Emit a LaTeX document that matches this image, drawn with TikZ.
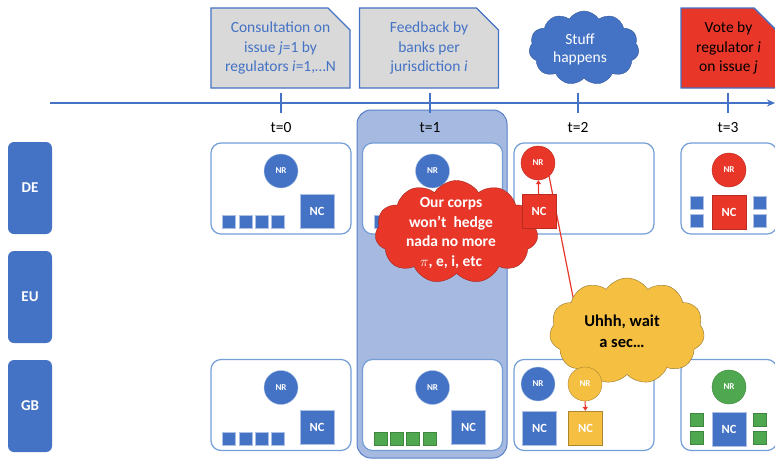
\documentclass[tikz,border=0pt]{standalone}
\usepackage{fontspec}
\setmainfont{Carlito}
\usepackage{tikz}
\usetikzlibrary{arrows.meta,positioning,shapes.symbols,shapes.misc}
\usepackage{xcolor}
\definecolor{office}{rgb}{0.267, 0.447, 0.769}
\definecolor{paleline}{rgb}{0.45, 0.62, 0.84}
\definecolor{haze}{rgb}{0.65, 0.725, 0.88}
\definecolor{scarlet}{rgb}{0.91, 0.21, 0.16}
\definecolor{amber}{rgb}{0.96, 0.75, 0.26}
\definecolor{clover}{rgb}{0.31, 0.655, 0.31}
\definecolor{silver}{rgb}{0.85, 0.85, 0.85}

\tikzset{
	axis/.style={draw=office, line width=1.5pt},
	stamp/.style={font=\fontsize{15.5}{15.5}\selectfont, inner sep=0pt},
	topbox/.style={chamfered rectangle, chamfered rectangle corners=north east,
		chamfered rectangle xsep=11pt, chamfered rectangle ysep=11pt,
		draw=office, line width=1.4pt, fill=silver, text=office, align=center,
		font=\fontsize{15.5}{19.5}\selectfont, minimum width=139pt, minimum height=80pt, inner sep=2pt},
	region/.style={rectangle, rounded corners=6pt, fill=office, text=white,
		font=\fontsize{15}{15}\selectfont\bfseries, minimum width=44pt, minimum height=92pt},
	panel/.style={draw=paleline, line width=1.2pt, fill=white, rounded corners=10pt,
		minimum width=140pt, minimum height=91pt, outer sep=0pt},
	nr/.style={circle, draw=white!55!office, fill=office, text=white,
		font=\fontsize{9}{9}\selectfont\bfseries, minimum size=34pt, inner sep=0pt},
	nc/.style={rectangle, draw=white!55!office, fill=office, text=white,
		font=\fontsize{12.5}{12.5}\selectfont\bfseries, minimum size=34pt, inner sep=0pt},
	chip/.style={rectangle, draw=white!55!office, fill=office, minimum size=13pt, inner sep=0pt},
	greenchip/.style={chip, fill=clover, draw=clover!80!black},
	bluechip/.style={chip},
	puff/.style={cloud, cloud puffs=11, cloud puff arc=115, cloud ignores aspect, inner sep=0pt},
	say/.style={align=center, inner sep=0pt},
	redline/.style={draw=scarlet, line width=1.2pt},
}

\begin{document}
\begin{tikzpicture}[x=1pt, y=-1pt]
	\useasboundingbox (0,0) rectangle (775,458);

	% Shade the t=1 column.
	\node[rectangle, rounded corners=14pt, fill=haze, draw=office!90, line width=1pt,
		minimum width=150pt, minimum height=348pt] (focus) at (432,284) {};

	% Draw the timeline.
	\coordinate (tl start) at (50,103);
	\coordinate (tl end) at (775,103);
	\draw[axis, -{Stealth[length=8pt, width=7pt]}] (tl start) -- (tl end);
	\foreach \t/\x in {0/281, 1/430, 2/578, 3/728} {
		\draw[axis] (\x,93) -- (\x,113);
		\node[stamp] (t\t) at (\x,128) {t=\t};
	}

	% Events above the timeline.
	\node[topbox] (consult) at (280.5,48) {Consultation on\\issue \textit{j}=1 by\\regulators \textit{i}=1,\ldots N};
	\node[topbox] (feedback) at (429,48) {Feedback by\\banks per\\jurisdiction \textit{i}};
	\node[puff, fill=office, draw=office!80!black, minimum width=110pt, minimum height=74pt] (stuff) at (584,48) {};
	\node[say, text=white, font=\fontsize{15.5}{18}\selectfont] (stuff text) at (580,49) {Stuff\\happens};
	\node[topbox, fill=scarlet, text=black, minimum width=95pt] (vote) at (728.5,48) {Vote by\\regulator \textit{i}\\on issue \textit{j}};

	% Jurisdictions.
	\foreach \r/\lab/\y in {de/DE/188, eu/EU/297, gb/GB/406}
		\node[region] (\r) at (30,\y) {\lab};

	% Panels for each jurisdiction and date.
	\foreach \row/\y in {de/188.5, gb/405} {
		\foreach \col/\x in {0/281, 1/432.5, 2/584} {
			\node[panel] (\row\col) at (\x,\y) {};
		}
		\node[panel, minimum width=96pt] (\row3) at (729,\y) {};
	}

	% Same set-up at t=0 and t=1.
	\foreach \p/\c in {de0/bluechip, de1/bluechip, gb0/bluechip, gb1/greenchip} {
		\node[nr] (\p nr) at ([yshift=-28pt]\p.north) {NR};
		\foreach \k in {0,...,3}
			\node[\c] (\p s\k) at ([xshift=18pt+16.3pt*\k, yshift=12pt]\p.south west) {};
	}
	\foreach \p in {de0, gb0, gb1}
		\node[nc] (\p nc) at ([xshift=-34pt, yshift=23pt]\p.south east) {NC};

	% The red line to the doubt.
	\node[nr, fill=scarlet, draw=scarlet!80!black] (de2nr) at (538,163) {NR};
	\coordinate (doubt tip) at (574,302);
	\draw[redline] (de2nr.-50) -- (doubt tip);

	\node[puff, fill=scarlet, draw=scarlet!70!black, minimum width=163pt, minimum height=103pt] (hedge) at (456.5,232) {};
	\node[say, text=white, font=\fontsize{15.5}{19.5}\selectfont\bfseries] (hedge text) at (451,233)
		{Our corps\\won't~~hedge\\nada no more\\$\pi$, e, i, etc};

	% Shock at t=2.
	\node[nc, fill=scarlet, draw=scarlet!80!black] (de2nc) at (539,211) {NC};
	\draw[redline, -{Triangle[length=4pt, width=5pt]}] (de2nc) -- (de2nr);

	\node[puff, fill=amber, draw=amber!60!black, minimum width=155pt, minimum height=106pt] (doubt) at (627,331) {};
	\node[say, text=black, font=\fontsize{16.5}{21}\selectfont\bfseries] (doubt text) at (622,331) {Uhhh, wait\\a sec\ldots};

	\node[nr] (gb2nr) at (538,384) {NR};
	\node[nr, fill=amber, draw=amber!70!black] (gb2nrb) at (585,384) {NR};
	\node[nc] (gb2nc) at (539.5,428) {NC};
	\node[nc, fill=amber, draw=amber!70!black] (gb2ncb) at (585.5,428) {NC};
	\draw[redline, line width=1pt, -{Triangle[length=4pt, width=5pt]}] (gb2nrb) -- (gb2ncb);

	% Outcome of the vote.
	\node[nr, fill=scarlet, draw=scarlet!80!black] (de3nr) at (729,170) {NR};
	\node[nc, fill=scarlet, draw=scarlet!80!black] (de3nc) at (729,212) {NC};
	\node[nr, fill=clover, draw=clover!80!black] (gb3nr) at (729,387) {NR};
	\node[nc] (gb3nc) at (729,429.5) {NC};
	\foreach \x/\side in {696.5/l, 759.5/r} {
		\node[bluechip] (de3\side a) at (\x,203) {};
		\node[bluechip] (de3\side b) at (\x,221) {};
		\node[greenchip] (gb3\side a) at (\x,419.5) {};
		\node[greenchip] (gb3\side b) at (\x,438) {};
	}
\end{tikzpicture}
\end{document}
